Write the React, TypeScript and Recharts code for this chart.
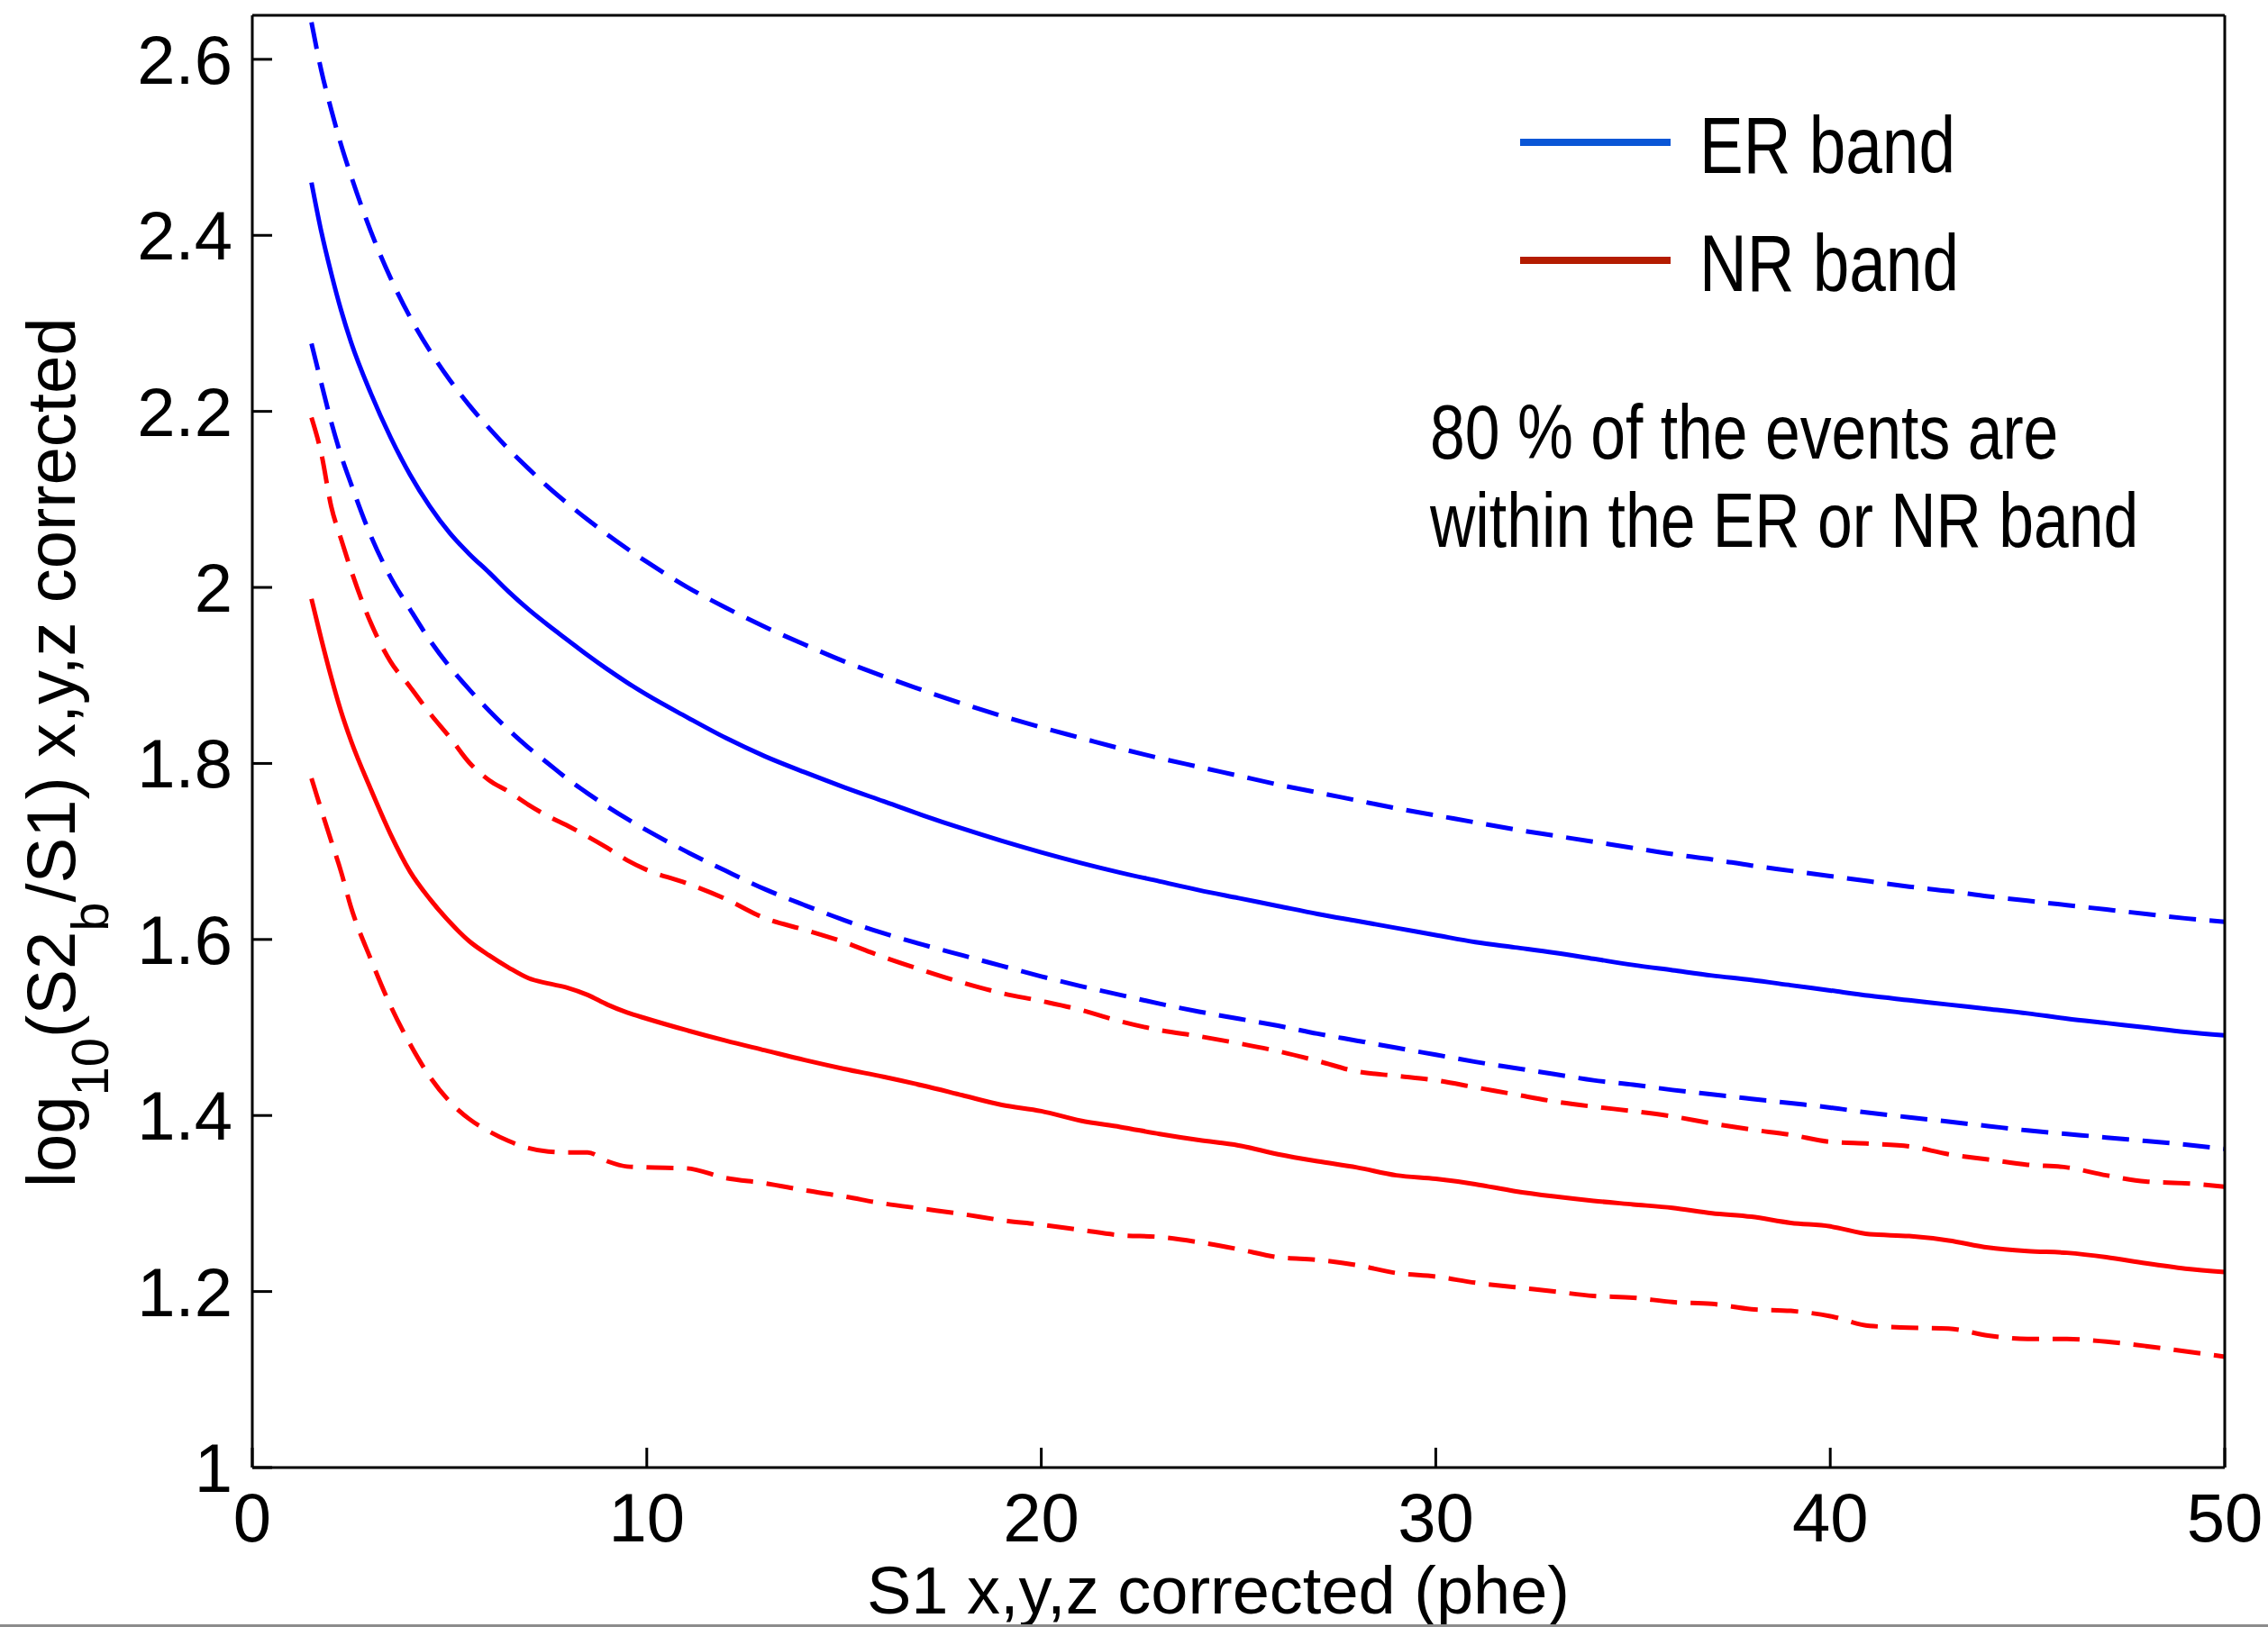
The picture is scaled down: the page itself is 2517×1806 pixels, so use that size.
import React from 'react';
import { LineChart, Line, XAxis, YAxis, Legend } from 'recharts';

// S1 (phe) sample points shared by all six curves
const s1 = [
  1.5, 1.75, 2, 2.25, 2.5, 3, 3.5, 4, 4.5, 5,
  5.5, 6, 6.5, 7, 7.5, 8, 8.5, 9, 9.5, 10,
  11, 12, 13, 14, 15, 16, 17, 18, 19, 20,
  21, 22, 23, 24, 25, 26, 27, 28, 29, 30,
  31, 32, 33, 34, 35, 36, 37, 38, 39, 40,
  41, 42, 43, 44, 45, 46, 47, 48, 49, 50,
];

// ER band: upper edge, median, lower edge
const erHigh = [
  2.642, 2.587, 2.543, 2.503, 2.468, 2.405, 2.352, 2.307, 2.269, 2.236,
  2.207, 2.181, 2.157, 2.135, 2.114, 2.095, 2.077, 2.06, 2.044, 2.029,
  2.001, 1.977, 1.955, 1.935, 1.916, 1.899, 1.883, 1.868, 1.854, 1.841,
  1.829, 1.817, 1.806, 1.796, 1.786, 1.776, 1.767, 1.758, 1.749, 1.741,
  1.733, 1.725, 1.718, 1.711, 1.704, 1.697, 1.691, 1.684, 1.678, 1.672,
  1.666, 1.66, 1.655, 1.649, 1.644, 1.639, 1.634, 1.629, 1.624, 1.62,
];
const erMid = [
  2.46, 2.404, 2.357, 2.315, 2.279, 2.221, 2.171, 2.128, 2.092, 2.062,
  2.038, 2.017, 1.995, 1.975, 1.957, 1.94, 1.923, 1.907, 1.892, 1.878,
  1.853, 1.829, 1.808, 1.79, 1.773, 1.757, 1.741, 1.726, 1.712, 1.699,
  1.687, 1.676, 1.666, 1.656, 1.647, 1.638, 1.629, 1.621, 1.613, 1.605,
  1.597, 1.591, 1.585, 1.578, 1.571, 1.565, 1.559, 1.554, 1.548, 1.542,
  1.536, 1.531, 1.526, 1.521, 1.516, 1.51, 1.505, 1.5, 1.495, 1.491,
];
const erLow = [
  2.277, 2.232, 2.188, 2.15, 2.118, 2.059, 2.012, 1.975, 1.94, 1.91,
  1.884, 1.86, 1.838, 1.818, 1.8, 1.782, 1.766, 1.751, 1.737, 1.724,
  1.7, 1.678, 1.657, 1.639, 1.622, 1.607, 1.594, 1.582, 1.57, 1.558,
  1.547, 1.537, 1.527, 1.518, 1.51, 1.502, 1.493, 1.485, 1.477, 1.469,
  1.461, 1.454, 1.447, 1.44, 1.435, 1.429, 1.424, 1.419, 1.414, 1.409,
  1.403, 1.398, 1.393, 1.388, 1.383, 1.379, 1.375, 1.371, 1.367, 1.362,
];

// NR band: upper edge, median, lower edge
const nrHigh = [
  2.193, 2.152, 2.092, 2.055, 2.02, 1.96, 1.916, 1.887, 1.857, 1.83,
  1.801, 1.781, 1.768, 1.753, 1.74, 1.729, 1.717, 1.704, 1.69, 1.679,
  1.664, 1.646, 1.624, 1.611, 1.597, 1.58, 1.565, 1.551, 1.539, 1.53,
  1.52, 1.507, 1.497, 1.49, 1.482, 1.473, 1.462, 1.45, 1.445, 1.44,
  1.432, 1.424, 1.416, 1.41, 1.405, 1.399, 1.391, 1.384, 1.378, 1.37,
  1.368, 1.365, 1.356, 1.35, 1.344, 1.341, 1.332, 1.325, 1.323, 1.319,
];
const nrMid = [
  1.987, 1.941, 1.898, 1.859, 1.826, 1.771, 1.72, 1.677, 1.646, 1.62,
  1.598, 1.582, 1.568, 1.556, 1.55, 1.545, 1.537, 1.526, 1.517, 1.51,
  1.497, 1.485, 1.474, 1.463, 1.453, 1.444, 1.434, 1.423, 1.412, 1.405,
  1.394, 1.387, 1.379, 1.372, 1.366, 1.356, 1.348, 1.341, 1.332, 1.328,
  1.322, 1.314, 1.308, 1.303, 1.299, 1.295, 1.289, 1.285, 1.278, 1.274,
  1.265, 1.263, 1.258, 1.25, 1.246, 1.244, 1.239, 1.232, 1.226, 1.222,
];
const nrLow = [
  1.783, 1.747, 1.712, 1.677, 1.637, 1.578, 1.525, 1.481, 1.444, 1.416,
  1.396, 1.382, 1.371, 1.363, 1.359, 1.358, 1.358, 1.348, 1.342, 1.341,
  1.34, 1.329, 1.323, 1.315, 1.308, 1.3, 1.294, 1.288, 1.281, 1.276,
  1.27, 1.264, 1.262, 1.256, 1.248, 1.239, 1.236, 1.23, 1.221, 1.217,
  1.21, 1.205, 1.2, 1.195, 1.193, 1.188, 1.186, 1.18, 1.178, 1.172,
  1.161, 1.159, 1.158, 1.15, 1.146, 1.146, 1.143, 1.138, 1.132, 1.126,
];

const xTicks = [0, 10, 20, 30, 40, 50];
const yTicks = [1, 1.2, 1.4, 1.6, 1.8, 2, 2.2, 2.4, 2.6];

const legendItems = ['ER band', 'NR band'];
const noteLines = ['80 % of the events are', 'within the ER or NR band'];

const data = s1.map((x, i) => ({
  x,
  erHigh: erHigh[i],
  erMid: erMid[i],
  erLow: erLow[i],
  nrHigh: nrHigh[i],
  nrMid: nrMid[i],
  nrLow: nrLow[i],
}));

const W = 2517;
const H = 1806;
const FONT = "'Liberation Sans', Arial, Helvetica, sans-serif";
const BLUE = '#0000ff';
const RED = '#ff0000';
const LEGEND_COLORS = ['#0a56d6', '#b41c00'];
const DASH = '30 15';

const tickStyle = { fill: '#000', fontSize: 76, fontFamily: FONT };
const axisLine = { stroke: '#000', strokeWidth: 3 };

function YTitle() {
  return (
    <text transform="translate(83 1318) rotate(-90)" fontSize={76} fontFamily={FONT} fill="#000">
      log<tspan fontSize={58} dy={37}>10</tspan>
      <tspan dy={-37}>(S2</tspan>
      <tspan fontSize={58} dy={37}>b</tspan>
      <tspan dy={-37}>/S1) x,y,z corrected</tspan>
    </text>
  );
}

function XTitle() {
  return (
    <text x={1352} y={1791} textAnchor="middle" fontSize={74} fontFamily={FONT} fill="#000">
      S1 x,y,z corrected (phe)
    </text>
  );
}

function BandLegend() {
  return (
    <svg width={720} height={260} style={{ display: 'block' }}>
      {legendItems.map((label, i) => {
        const y = 68 + i * 131;
        return (
          <g key={label}>
            <line x1={27} x2={194} y1={y} y2={y} stroke={LEGEND_COLORS[i]} strokeWidth={8} />
            <text
              transform={`translate(226 ${y + 34}) scale(0.82 1)`}
              fontSize={89}
              fontFamily={FONT}
              fill="#000"
            >
              {label}
            </text>
          </g>
        );
      })}
    </svg>
  );
}

export default function App() {
  return (
    <div style={{ position: 'relative', width: W, height: H, background: '#fff' }}>
      <style>{'body{margin:0;background:#fff}'}</style>
      <LineChart width={W} height={H} data={data} margin={{ top: 16, right: 47, bottom: 0, left: 0 }}>
        <XAxis
          dataKey="x"
          type="number"
          domain={[0, 50]}
          ticks={xTicks}
          height={177}
          tickSize={-22}
          tickMargin={50}
          tick={tickStyle}
          axisLine={axisLine}
          tickLine={axisLine}
          label={<XTitle />}
        />
        <XAxis
          xAxisId="top"
          orientation="top"
          dataKey="x"
          type="number"
          domain={[0, 50]}
          ticks={xTicks}
          height={1}
          tickSize={-22}
          tick={false}
          axisLine={axisLine}
          tickLine={axisLine}
        />
        <YAxis
          type="number"
          domain={[1, 2.65]}
          ticks={yTicks}
          width={280}
          tickSize={-22}
          tickMargin={44}
          tick={tickStyle}
          axisLine={axisLine}
          tickLine={axisLine}
          label={<YTitle />}
        />
        <YAxis
          yAxisId="right"
          orientation="right"
          type="number"
          domain={[1, 2.65]}
          ticks={yTicks}
          width={1}
          tickSize={-22}
          tick={false}
          axisLine={axisLine}
          tickLine={axisLine}
        />
        <Legend
          layout="horizontal"
          verticalAlign="middle"
          align="center"
          wrapperStyle={{ left: 1660, top: 90, width: 720, height: 260 }}
          content={() => <BandLegend />}
        />
        <Line dataKey="erHigh" type="monotone" stroke={BLUE} strokeWidth={5} strokeDasharray={DASH} dot={false} activeDot={false} isAnimationActive={false} />
        <Line dataKey="erMid" type="monotone" stroke={BLUE} strokeWidth={5} dot={false} activeDot={false} isAnimationActive={false} />
        <Line dataKey="erLow" type="monotone" stroke={BLUE} strokeWidth={5} strokeDasharray={DASH} dot={false} activeDot={false} isAnimationActive={false} />
        <Line dataKey="nrHigh" type="monotone" stroke={RED} strokeWidth={5} strokeDasharray={DASH} dot={false} activeDot={false} isAnimationActive={false} />
        <Line dataKey="nrMid" type="monotone" stroke={RED} strokeWidth={5} dot={false} activeDot={false} isAnimationActive={false} />
        <Line dataKey="nrLow" type="monotone" stroke={RED} strokeWidth={5} strokeDasharray={DASH} dot={false} activeDot={false} isAnimationActive={false} />
      </LineChart>
      <svg
        width={W}
        height={H}
        style={{ position: 'absolute', left: 0, top: 0, pointerEvents: 'none' }}
      >
        {noteLines.map((line, i) => (
          <text
            key={line}
            transform={`translate(1587 ${509 + i * 98}) scale(0.82 1)`}
            fontSize={85}
            fontFamily={FONT}
            fill="#000"
          >
            {line}
          </text>
        ))}
      </svg>
      <div style={{ position: 'absolute', left: 0, top: 1803, width: W, height: 3, background: '#8c8c8c' }} />
    </div>
  );
}
